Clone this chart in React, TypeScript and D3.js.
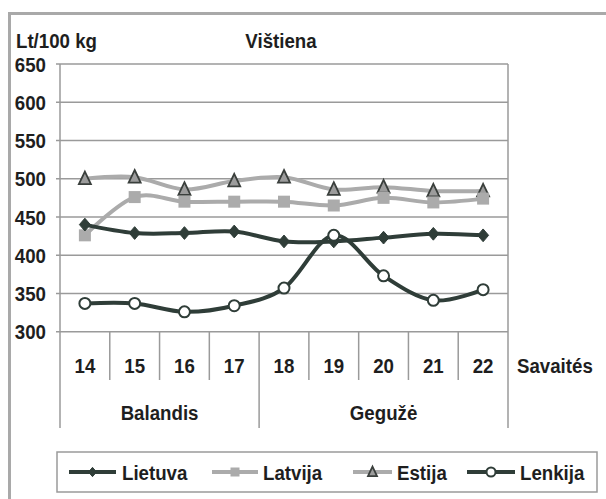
import React from "react";
import * as d3 from "d3";

const weeks = ["14", "15", "16", "17", "18", "19", "20", "21", "22"];
const months = ["Balandis", "Gegužė"];
const monthSpans = [4, 5];
const yTicks = [300, 350, 400, 450, 500, 550, 600, 650];

const lietuva = [440, 429, 429, 431, 418, 418, 423, 428, 426];
const latvija = [426, 476, 470, 470, 470, 465, 475, 469, 474];
const estija = [500, 502, 486, 497, 502, 486, 489, 484, 484];
const lenkija = [337, 337, 326, 334, 357, 426, 373, 341, 355];

const seriesNames = ["Lietuva", "Latvija", "Estija", "Lenkija"];

const W = 606;
const H = 499;
const FONT = "'Liberation Sans', Arial, sans-serif";
const DARK = "#2f3d38";
const LIGHT = "#ababab";
const GRID = "#9a9a9a";
const TEXT = "#1e1e1e";
const FS = 21;
const SX = 0.89;

type Marker = "diamond" | "square" | "triangle" | "circle";

function T({ x, y, anchor = "start", children }: { x: number; y: number; anchor?: string; children: React.ReactNode }) {
  return (
    <g transform={`translate(${x},${y}) scale(${SX},1)`}>
      <text x={0} y={0} dy="0.36em" fontSize={FS} textAnchor={anchor} fill={TEXT}>
        {children}
      </text>
    </g>
  );
}

function MarkerShape({ type, x, y, s }: { type: Marker; x: number; y: number; s: number }) {
  if (type === "diamond") {
    const p = `${x},${y - s * 0.58} ${x + s * 0.5},${y} ${x},${y + s * 0.58} ${x - s * 0.5},${y}`;
    return <polygon points={p} fill={DARK} stroke={DARK} strokeWidth={1} />;
  }
  if (type === "square") {
    return <rect x={x - s / 2} y={y - s / 2} width={s} height={s} fill={LIGHT} />;
  }
  if (type === "triangle") {
    const p = `${x},${y - s * 0.6} ${x + s * 0.5},${y + s * 0.45} ${x - s * 0.5},${y + s * 0.45}`;
    return <polygon points={p} fill="#9c9c9c" stroke="#3a3f3c" strokeWidth={1.8} strokeLinejoin="miter" />;
  }
  return <circle cx={x} cy={y} r={s / 2} fill="#fff" stroke={DARK} strokeWidth={2} />;
}

export default function App() {
  const left = 60;
  const right = 508;
  const top = 64;
  const bottom = 331.7;

  const x = d3.scaleBand<string>().domain(weeks).range([left, right]);
  const y = d3.scaleLinear().domain([300, 650]).range([bottom, top]);

  const line = d3
    .line<number>()
    .x((_, i) => (x(weeks[i]) as number) + x.bandwidth() / 2)
    .y((d) => y(d))
    .curve(d3.curveCatmullRom.alpha(0));

  const series: { name: string; data: number[]; color: string; marker: Marker; ms: number }[] = [
    { name: seriesNames[0], data: lietuva, color: DARK, marker: "diamond", ms: 11 },
    { name: seriesNames[1], data: latvija, color: LIGHT, marker: "square", ms: 12 },
    { name: seriesNames[2], data: estija, color: LIGHT, marker: "triangle", ms: 12 },
    { name: seriesNames[3], data: lenkija, color: DARK, marker: "circle", ms: 11 },
  ];
  const drawOrder = [2, 1, 0, 3];

  const catLabelY = 365;
  const monthLabelY = 412;
  const sepShortEnd = 380;
  const sepLongEnd = 428;

  let acc = 0;
  const monthBounds = monthSpans.map((n) => {
    const x0 = x(weeks[acc]) as number;
    acc += n;
    const x1 = acc < weeks.length ? (x(weeks[acc]) as number) : right;
    return [x0, x1];
  });
  const monthStarts = new Set<number>();
  acc = 0;
  monthSpans.forEach((n) => {
    monthStarts.add(acc);
    acc += n;
  });

  const legendItems = [
    { lx0: 69, lx1: 116, tx: 122 },
    { lx0: 212, lx1: 258, tx: 263 },
    { lx0: 353, lx1: 392, tx: 397 },
    { lx0: 467, lx1: 515, tx: 520 },
  ];
  const legendY = 472;
  const legendMarkerSize = [8, 9, 9, 9];

  return (
    <svg
      width={W}
      height={H}
      style={{ position: "absolute", left: 0, top: 0, background: "#fff" }}
      fontFamily={FONT}
      fontWeight="bold"
    >
      <rect x={9.5} y={13.5} width={W + 20} height={H + 20} fill="#fff" stroke="#a9a9a9" strokeWidth={3} />

      <T x={16} y={40}>Lt/100 kg</T>
      <T x={281} y={40} anchor="middle">Vištiena</T>

      {yTicks.map((t) => (
        <line key={t} x1={56} x2={right} y1={y(t)} y2={y(t)} stroke={GRID} strokeWidth={1.5} />
      ))}
      {yTicks.map((t) => (
        <T key={"l" + t} x={46} y={y(t)} anchor="end">
          {t}
        </T>
      ))}

      <line x1={left} x2={left} y1={top} y2={sepLongEnd} stroke={GRID} strokeWidth={1.5} />
      <line x1={right} x2={right} y1={top} y2={sepLongEnd} stroke={GRID} strokeWidth={1.5} />

      {weeks.map((w, i) => {
        if (i === 0) return null;
        const xx = x(w) as number;
        const long = monthStarts.has(i);
        return (
          <line key={"s" + w} x1={xx} x2={xx} y1={bottom} y2={long ? sepLongEnd : sepShortEnd} stroke={GRID} strokeWidth={1.5} />
        );
      })}

      {weeks.map((w) => (
        <T key={"c" + w} x={(x(w) as number) + x.bandwidth() / 2} y={catLabelY} anchor="middle">
          {w}
        </T>
      ))}
      <T x={517} y={catLabelY}>Savaités</T>
      {months.map((m, i) => (
        <T key={m} x={(monthBounds[i][0] + monthBounds[i][1]) / 2} y={monthLabelY} anchor="middle">
          {m}
        </T>
      ))}

      {drawOrder.map((k) => {
        const s = series[k];
        return <path key={"p" + s.name} d={line(s.data) as string} fill="none" stroke={s.color} strokeWidth={4} />;
      })}
      {drawOrder.map((k) => {
        const s = series[k];
        return (
          <g key={"m" + s.name}>
            {s.data.map((v, i) => (
              <MarkerShape key={i} type={s.marker} x={(x(weeks[i]) as number) + x.bandwidth() / 2} y={y(v)} s={s.ms} />
            ))}
          </g>
        );
      })}

      <rect x={57} y={452} width={540} height={40} fill="#fff" stroke="#9a9a9a" strokeWidth={1.5} />
      {series.map((s, i) => {
        const it = legendItems[i];
        return (
          <g key={"lg" + s.name}>
            <line x1={it.lx0} x2={it.lx1} y1={legendY} y2={legendY} stroke={s.color} strokeWidth={4} />
            <MarkerShape type={s.marker} x={(it.lx0 + it.lx1) / 2} y={legendY} s={legendMarkerSize[i]} />
            <T x={it.tx} y={legendY}>{s.name}</T>
          </g>
        );
      })}
    </svg>
  );
}
